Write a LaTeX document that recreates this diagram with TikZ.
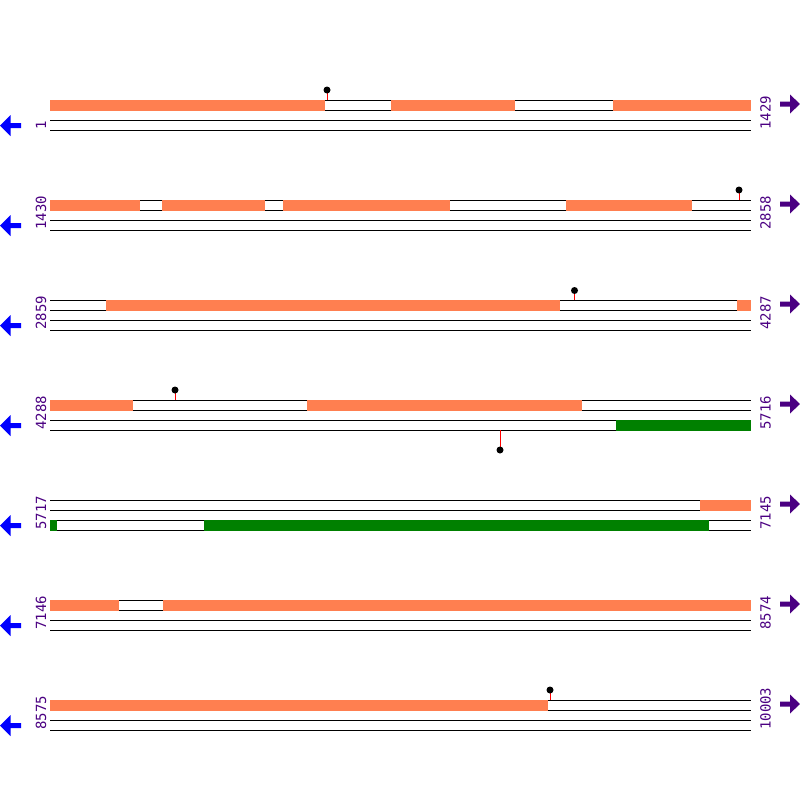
\documentclass[tikz,border=0pt]{standalone}
\usepackage{fontspec}
\newfontfamily\monofnt{DejaVu Sans Mono}
\definecolor{mycoral}{HTML}{FF7F50}
\definecolor{myindigo}{HTML}{4B0082}
\definecolor{mygreen}{HTML}{008000}
\definecolor{myblue}{HTML}{0000FF}
\begin{document}
\begin{tikzpicture}[x=1pt,y=-1pt,
  trackline/.style={black,line width=1pt},
  orangeblock/.style={fill=mycoral,draw=none},
  greenblock/.style={fill=mygreen,draw=none},
  lolli/.style={circle,fill=black,inner sep=0pt,minimum size=7pt},
  stem/.style={red,line width=1pt},
  num/.style={text=myindigo,font=\monofnt\fontsize{14}{14}\selectfont,inner sep=0pt,rotate=90,anchor=west},
  leftarrow/.style={fill=myblue,draw=none},
  rightarrow/.style={fill=myindigo,draw=none}]
\useasboundingbox (0,0) rectangle (800,800);
\fill[white] (0,0) rectangle (800,800);
\foreach \i/\l/\r in {0/1/1429,1/1430/2858,2/2859/4287,3/4288/5716,4/5717/7145,5/7146/8574,6/8575/10003}{
  \pgfmathsetmacro\yy{100+100*\i}
  \foreach \d in {0,10,20,30}{
    \draw[trackline] (50,\yy+\d) -- (751,\yy+\d);
  }
  \node[num] (L\i) at (41,\yy+30) {\l};
  \node[num] (R\i) at (765.5,\yy+30) {\r};
  \fill[leftarrow] (0,\yy+25.5) -- (10.5,\yy+15) -- (10.5,\yy+23) -- (21,\yy+23) -- (21,\yy+28) -- (10.5,\yy+28) -- (10.5,\yy+36) -- cycle;
  \fill[rightarrow] (800,\yy+4) -- (790,\yy-5.5) -- (790,\yy+1.5) -- (780,\yy+1.5) -- (780,\yy+6.5) -- (790,\yy+6.5) -- (790,\yy+13.5) -- cycle;
}
% row 1
\fill[orangeblock] (50,99.5) rectangle (325,110.5);
\fill[orangeblock] (391,99.5) rectangle (515,110.5);
\fill[orangeblock] (613,99.5) rectangle (751,110.5);
% row 2
\fill[orangeblock] (50,199.5) rectangle (140,210.5);
\fill[orangeblock] (162,199.5) rectangle (265,210.5);
\fill[orangeblock] (283,199.5) rectangle (450,210.5);
\fill[orangeblock] (566,199.5) rectangle (692,210.5);
% row 3
\fill[orangeblock] (106,299.5) rectangle (560,310.5);
\fill[orangeblock] (737,299.5) rectangle (751,310.5);
% row 4
\fill[orangeblock] (50,399.5) rectangle (133,410.5);
\fill[orangeblock] (307,399.5) rectangle (582,410.5);
\fill[greenblock] (616,419.5) rectangle (751,430.5);
% row 5
\fill[orangeblock] (700,499.5) rectangle (751,510.5);
\fill[greenblock] (50,519.5) rectangle (57,530.5);
\fill[greenblock] (204,519.5) rectangle (709,530.5);
% row 6
\fill[orangeblock] (50,599.5) rectangle (119,610.5);
\fill[orangeblock] (163,599.5) rectangle (751,610.5);
% row 7
\fill[orangeblock] (50,699.5) rectangle (548,710.5);
% lollipops: stems first, heads on top
\coordinate (b1) at (327,100);
\coordinate (b2) at (739,200);
\coordinate (b3) at (574.5,300);
\coordinate (b4) at (175,400);
\coordinate (b5) at (500,430);
\coordinate (b6) at (550,700);
\draw[stem] (b1) -- (327,90);
\draw[stem] (b2) -- (739,190);
\draw[stem] (b3) -- (574.5,290.5);
\draw[stem] (b4) -- (175,390);
\draw[stem] (b5) -- (500,450);
\draw[stem] (b6) -- (550,690);
\node[lolli] (p1) at (327,90) {};
\node[lolli] (p2) at (739,190) {};
\node[lolli] (p3) at (574.5,290.5) {};
\node[lolli] (p4) at (175,390) {};
\node[lolli] (p5) at (500,450) {};
\node[lolli] (p6) at (550,690) {};
\end{tikzpicture}
\end{document}
